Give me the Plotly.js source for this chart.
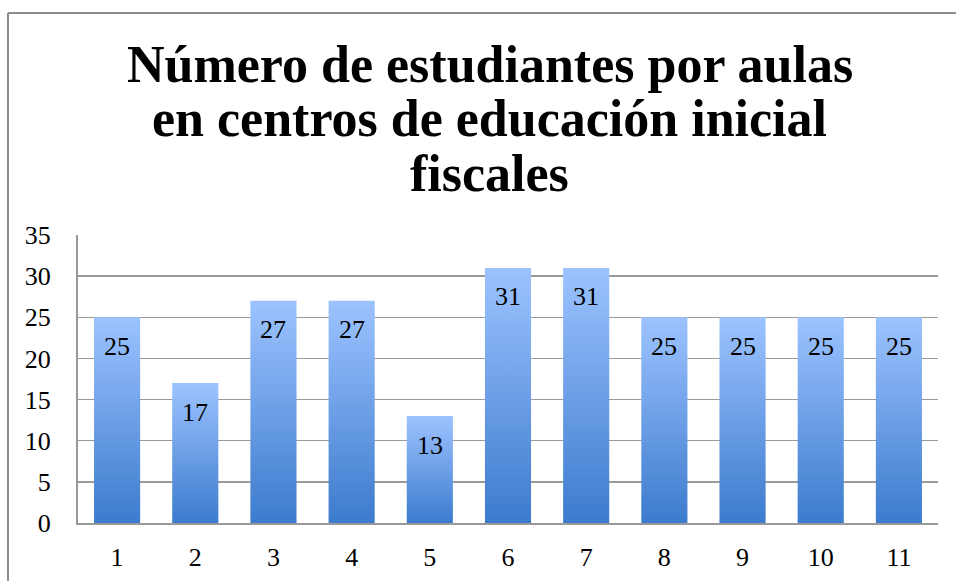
<!DOCTYPE html>
<html>
<head>
<meta charset="utf-8">
<script src="https://cdn.plot.ly/plotly-3.0.1.min.js"></script>
<style>html,body{margin:0;padding:0;background:#fff}#chart{width:956px;height:581px}</style>
</head>
<body>
<div id="chart"></div>
<script>
const categories = [1, 2, 3, 4, 5, 6, 7, 8, 9, 10, 11];
const values = [25, 17, 27, 27, 13, 31, 31, 25, 25, 25, 25];
const titleLines = ["Número de estudiantes por aulas", "en centros de educación inicial", "fiscales"];
const yTicks = [0, 5, 10, 15, 20, 25, 30, 35];

const serif = "Liberation Serif, DejaVu Serif, serif";
const halfW = 0.295;
const traces = categories.map((c, i) => ({
  type: 'scatter', mode: 'lines',
  x: [c - halfW, c - halfW, c + halfW, c + halfW, c - halfW],
  y: [0, values[i], values[i], 0, 0],
  fill: 'toself',
  fillgradient: {type: 'vertical', colorscale: [[0, '#3c7bcd'], [1, '#9dc3ff']]},
  line: {width: 0, color: 'rgba(0,0,0,0)'},
  hoverinfo: 'skip', showlegend: false
}));

const titleY = [1.592, 1.403, 1.214];
const annotations = titleLines.map((t, i) => ({
  text: '<b>' + t + '</b>', xref: 'paper', yref: 'paper', x: 0.4785, y: titleY[i],
  xanchor: 'center', yanchor: 'middle', showarrow: false,
  font: {family: serif, size: 52, color: '#000'}
})).concat(categories.map((c, i) => ({
  text: String(values[i]), x: c, y: values[i], yshift: -29, xref: 'x', yref: 'y',
  showarrow: false, font: {family: serif, size: 26, color: '#000'}
})));

const layout = {
  width: 956, height: 581,
  margin: {l: 78, r: 18, t: 235, b: 58},
  paper_bgcolor: '#fff', plot_bgcolor: '#fff',
  showlegend: false,
  xaxis: {
    range: [0.5, 11.5], tickvals: categories, ticktext: categories.map(String),
    showgrid: false, zeroline: false, showline: true, linecolor: '#999', linewidth: 2,
    ticks: '', ticklabelstandoff: 10,
    tickfont: {family: serif, size: 26, color: '#000'}, fixedrange: true
  },
  yaxis: {
    range: [0, 35], tickvals: yTicks, ticktext: yTicks.map(String),
    showgrid: true, gridcolor: '#9a9a9a', gridwidth: 1.5,
    zeroline: false, showline: true, linecolor: '#999', linewidth: 2,
    ticks: '', ticklabelstandoff: 20,
    tickfont: {family: serif, size: 26, color: '#000'}, fixedrange: true
  },
  shapes: [
    {type: 'line', xref: 'paper', yref: 'paper', x0: -0.0814, x1: 1.2, y0: 1.771, y1: 1.771, line: {color: '#8c8c8c', width: 2}},
    {type: 'line', xref: 'paper', yref: 'paper', x0: -0.0814, x1: -0.0814, y0: 1.771, y1: -0.4, line: {color: '#8c8c8c', width: 2}}
  ],
  annotations: annotations
};

Plotly.newPlot('chart', traces, layout, {displayModeBar: false, staticPlot: true});
</script>
</body>
</html>
